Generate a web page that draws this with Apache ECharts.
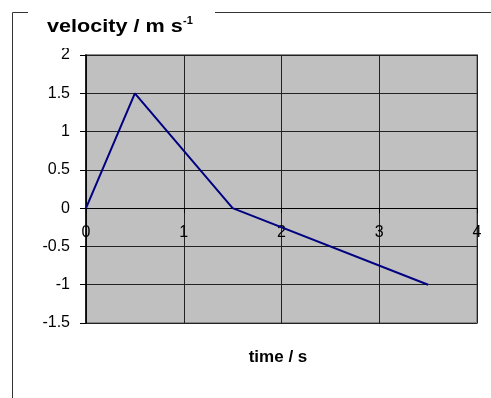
<!DOCTYPE html>
<html>
<head>
<meta charset="utf-8">
<script src="https://cdn.jsdelivr.net/npm/echarts@6/dist/echarts.min.js"></script>
<style>html,body{margin:0;padding:0;background:#fff}#c{width:491px;height:398px}</style>
</head>
<body>
<div id="c"></div>
<script>
const timeValues = [0, 0.5, 1.5, 3.5];
const velocityValues = [0, 1.5, 0, -1];
const xTicks = {min: 0, max: 4, interval: 1};
const yTicks = {min: -1.5, max: 2, interval: 0.5};
const titleText = 'velocity / m s';
const titleSup = '-1';
const xAxisTitle = 'time / s';

const chart = echarts.init(document.getElementById('c'), null, {renderer: 'canvas'});
const points = timeValues.map((t, i) => [t, velocityValues[i]]);
chart.setOption({
  animation: false,
  grid: {
    left: 86, right: 14, top: 55, bottom: 75,
    show: true, backgroundColor: '#c0c0c0', borderColor: '#8a8a8a', borderWidth: 2
  },
  xAxis: {
    type: 'value', min: xTicks.min, max: xTicks.max, interval: xTicks.interval,
    position: 'bottom', offset: 0,
    axisLine: {show: true, onZero: false, lineStyle: {color: '#000', width: 1}},
    axisTick: {show: true, length: 5, lineStyle: {color: '#000'}},
    axisLabel: {color: '#000', fontFamily: 'Liberation Sans', fontSize: 16, margin: 16},
    splitLine: {show: true, lineStyle: {color: '#222', width: 1}}
  },
  yAxis: {
    type: 'value', min: yTicks.min, max: yTicks.max, interval: yTicks.interval,
    axisLine: {show: true, onZero: false, lineStyle: {color: '#000', width: 1.5}},
    axisTick: {show: true, length: 6, lineStyle: {color: '#000'}},
    axisLabel: {color: '#000', fontFamily: 'Liberation Sans', fontSize: 16, margin: 16},
    splitLine: {show: true, lineStyle: {color: '#222', width: 1}}
  },
  series: [{
    type: 'line', data: points, showSymbol: false, symbol: 'none',
    lineStyle: {color: '#000080', width: 2}, z: 5
  }],
  graphic: [
    {type: 'line', shape: {x1: 12.5, y1: 12.5, x2: 28, y2: 12.5}, style: {stroke: '#333', lineWidth: 1}},
    {type: 'line', shape: {x1: 215, y1: 12.5, x2: 491, y2: 12.5}, style: {stroke: '#333', lineWidth: 1}},
    {type: 'line', shape: {x1: 12.5, y1: 12.5, x2: 12.5, y2: 398}, style: {stroke: '#333', lineWidth: 1}},
    {type: 'text', x: 47, y: 36, scaleX: 1.2, style: {text: titleText, font: 'bold 18px "Liberation Sans"', fill: '#000', textVerticalAlign: 'bottom'}},
    {type: 'text', x: 183, y: 26, style: {text: titleSup, font: 'bold 11px "Liberation Sans"', fill: '#000', textVerticalAlign: 'bottom'}},
    {type: 'rect', shape: {x: 40, y: 38, width: 170, height: 10}, style: {fill: '#fff'}, z: 10},
    {type: 'text', x: 278, y: 357, style: {text: xAxisTitle, font: 'bold 17px "Liberation Sans"', fill: '#000', textAlign: 'center', textVerticalAlign: 'middle'}}
  ]
});
// place the x axis line on y = 0, using the library's own y scale
const yBottom = chart.convertToPixel({yAxisIndex: 0}, yTicks.min);
const yZero = chart.convertToPixel({yAxisIndex: 0}, 0);
chart.setOption({xAxis: {offset: -(yBottom - yZero)}});
</script>
</body>
</html>
